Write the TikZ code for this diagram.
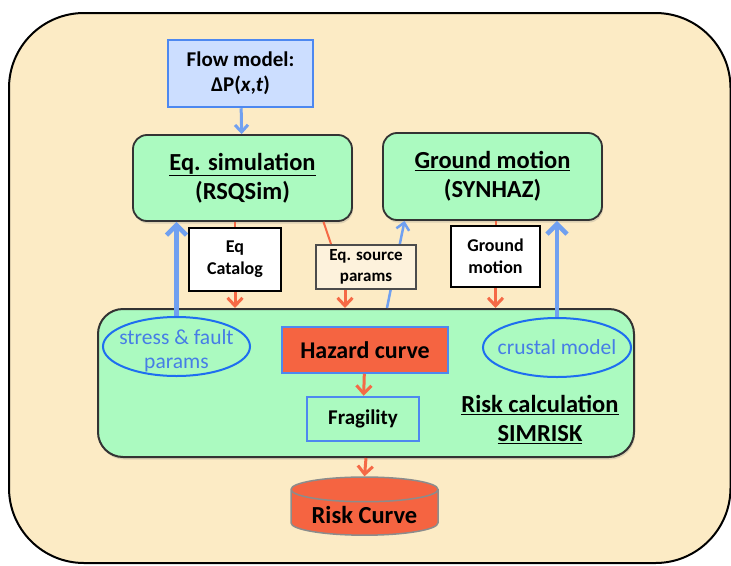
\documentclass[tikz,border=0pt]{standalone}
\usepackage{fontspec}
\setmainfont{Carlito}
\usetikzlibrary{shapes.geometric,arrows.meta,shadows}

\definecolor{cream}{RGB}{252,235,197}
\definecolor{mint}{RGB}{171,250,192}
\definecolor{paleblue}{RGB}{204,222,255}
\definecolor{edgeblue}{RGB}{77,136,240}
\definecolor{arrowblue}{RGB}{112,160,240}
\definecolor{ringblue}{RGB}{30,110,240}
\definecolor{textblue}{RGB}{70,125,230}
\definecolor{hazred}{RGB}{245,100,65}
\definecolor{arrowred}{RGB}{245,105,70}
\definecolor{paper}{RGB}{253,242,220}

\begin{document}
\begin{tikzpicture}[x=1pt, y=-1pt,
    softshadow/.style={drop shadow={opacity=0.25, shadow xshift=1pt, shadow yshift=-2.5pt}},
    model/.style={draw=black!80, line width=1.8pt, fill=mint, rounded corners=14pt, softshadow, align=center, font=\bfseries\fontsize{24.5}{29}\selectfont},
    databox/.style={draw=black, line width=2pt, fill=white, align=center, font=\bfseries\fontsize{18}{22}\selectfont},
    param/.style={ellipse, draw=ringblue, line width=2pt, text=textblue, align=center, inner xsep=-8pt, inner ysep=-6pt, font=\fontsize{21.5}{24}\selectfont},
    redarrow/.style={draw=arrowred, line width=3pt, -{Straight Barb[length=8pt,width=15pt]}},
    redline/.style={draw=arrowred, line width=2pt},
    bluearrow/.style={draw=arrowblue, line width=4.5pt, -{Straight Barb[length=10pt,width=20pt]}},
    thinblue/.style={draw=arrowblue, line width=2.5pt, -{Straight Barb[length=7pt,width=13pt]}}]

\useasboundingbox (0,0) rectangle (731,565);
\clip (0,0) rectangle (731,565);

% frame
\draw [fill=cream, line width=2pt, rounded corners=75pt] (9,13) rectangle (730.5,563);

% simulators
\node at (240.5,73.5) (flow) [draw=edgeblue, line width=2.5pt, fill=paleblue, minimum width=145pt, minimum height=67pt, align=center, font=\bfseries\fontsize{21}{25}\selectfont] {Flow model:\\ΔP(\textit{x},\textit{t})};
\node at (242.5,178) (eqsim) [model, minimum width=219pt, minimum height=86pt] {\underline{Eq. simulation}\\(RSQSim)};
\node at (492.5,176.5) (gm) [model, minimum width=219pt, minimum height=87pt] {\underline{Ground motion}\\(SYNHAZ)};

% risk calculation
\node at (366,383) (risk) [draw=black!80, line width=2pt, fill=mint, rounded corners=25pt, softshadow, minimum width=536pt, minimum height=148pt] {};
\node at (176.5,346.5) (stress) [param, minimum width=147pt, minimum height=59pt] {\raisebox{-10pt}[0pt][0pt]{\begin{tabular}{@{}c@{}}stress \& fault\\params\end{tabular}}};
\node at (365,350) (hazard) [draw=edgeblue, line width=1.5pt, fill=hazred, minimum width=166pt, minimum height=46pt, font=\bfseries\fontsize{24}{28}\selectfont] {Hazard curve};
\node at (557,347.5) (crust) [param, minimum width=148pt, minimum height=59pt] {crustal model};
\node at (363,419) (frag) [draw=edgeblue, line width=2.5pt, minimum width=112pt, minimum height=44pt, font=\bfseries\fontsize{21}{24}\selectfont] {Fragility};
\node at (540,419.5) (risklabel) [align=center, font=\bfseries\fontsize{24.5}{29}\selectfont] {\underline{Risk calculation}\\\underline{SIMRISK}};
\node at (364.5,514.5) (riskcurve) [cylinder, shape border rotate=90, aspect=0.22, draw=black!45, line width=1.5pt, fill=hazred, minimum width=147pt, minimum height=51pt, font=\bfseries\fontsize{24.5}{28}\selectfont] {Risk Curve};

% data passed between
\node at (235,259.5) (cat) [databox, minimum width=92pt, minimum height=63pt] {Eq\\Catalog};
\node at (495.5,256.5) (gmo) [databox, minimum width=89pt, minimum height=61pt] {Ground\\motion};
% source params go back up to ground motion (behind the box)
\draw [thinblue] ([xshift=21pt]risk.north) -- ([xshift=-88pt]gm.south);
\node at (366,267) (src) [databox, fill=paper, draw=black!70, minimum width=100pt, minimum height=44pt, font=\bfseries\fontsize{17}{21}\selectfont] {Eq. source\\params};

% links
\draw [thinblue, line width=3pt] (flow) -- (eqsim);
\draw [bluearrow] (stress.north) -- (stress.north |- eqsim.south);
\draw [redline] (cat.north |- eqsim.south) -- (cat.north);
\draw [redarrow] (cat.south) -- (cat.south |- risk.north);
\draw [redline] ([xshift=81pt]eqsim.south) -- ([xshift=-35pt]src.north);
\draw [redarrow] ([xshift=-21pt]src.south) -- ([xshift=-21pt]risk.north);
\draw [redline] (gmo.north |- gm.south) -- (gmo.north);
\draw [redarrow] (gmo.south) -- (gmo.south |- risk.north);
\draw [bluearrow] (crust.north) -- (crust.north |- gm.south);
\draw [redarrow] (hazard) -- (frag);
\draw [redarrow] (risk.south) -- (riskcurve.north);
\end{tikzpicture}
\end{document}
